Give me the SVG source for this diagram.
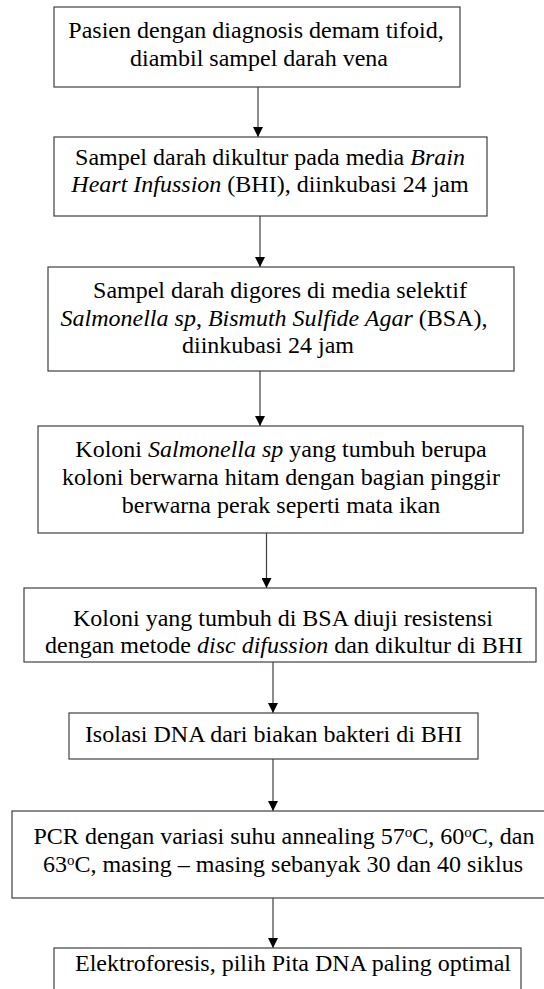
<svg xmlns="http://www.w3.org/2000/svg" width="544" height="989" viewBox="0 0 544 989">
<defs>
<style>
.box{fill:#fff;stroke:#404040;stroke-width:1.2}
.t{font-family:"Liberation Serif","Times New Roman",serif;font-size:24px;fill:#000;text-anchor:middle}
.i{font-style:italic}
.sup{font-size:15px}
.c{stroke:#404040;stroke-width:1.2;fill:none;marker-end:url(#ah)}
</style>
<marker id="ah" viewBox="0 0 10 10" refX="10" refY="5" markerWidth="10" markerHeight="10" markerUnits="userSpaceOnUse" orient="auto">
<path d="M0,0 L10,5 L0,10 z" fill="#000"/>
</marker>
</defs>
<rect width="544" height="989" fill="#fff"/>
<g id="connectors">
<line class="c" x1="258" y1="87" x2="258" y2="137"/>
<line class="c" x1="260" y1="216" x2="260" y2="267"/>
<line class="c" x1="260" y1="371" x2="260" y2="426"/>
<line class="c" x1="266.5" y1="533" x2="266.5" y2="588"/>
<line class="c" x1="273" y1="662" x2="273" y2="713"/>
<line class="c" x1="273" y1="759" x2="273" y2="811"/>
<line class="c" x1="273" y1="898" x2="273" y2="948"/>
</g>
<g id="n1">
<rect class="box" x="54" y="7" width="406" height="80"/>
<text class="t" x="256" y="38">Pasien dengan diagnosis demam tifoid,</text>
<text class="t" x="259" y="65.5">diambil sampel darah vena</text>
</g>
<g id="n2">
<rect class="box" x="54" y="137" width="433" height="79"/>
<text class="t" x="270" y="165">Sampel darah dikultur pada media <tspan class="i">Brain</tspan></text>
<text class="t" x="270" y="192"><tspan class="i">Heart Infussion</tspan> (BHI), diinkubasi 24 jam</text>
</g>
<g id="n3">
<rect class="box" x="48" y="267" width="466" height="104"/>
<text class="t" x="280" y="298">Sampel darah digores di media selektif</text>
<text class="t" x="274" y="325.5"><tspan class="i">Salmonella sp</tspan>, <tspan class="i">Bismuth Sulfide Agar</tspan> (BSA),</text>
<text class="t" x="268" y="353">diinkubasi 24 jam</text>
</g>
<g id="n4">
<rect class="box" x="38" y="426" width="485" height="107"/>
<text class="t" x="281" y="457">Koloni <tspan class="i">Salmonella sp</tspan> yang tumbuh berupa</text>
<text class="t" x="281" y="485">koloni berwarna hitam dengan bagian pinggir</text>
<text class="t" x="281" y="512.5">berwarna perak seperti mata ikan</text>
</g>
<g id="n5">
<rect class="box" x="24" y="588" width="512" height="74"/>
<text class="t" x="283" y="626">Koloni yang tumbuh di BSA diuji resistensi</text>
<text class="t" x="284" y="653">dengan metode <tspan class="i">disc difussion</tspan> dan dikultur di BHI</text>
</g>
<g id="n6">
<rect class="box" x="69" y="713" width="409" height="46"/>
<text class="t" x="273.5" y="742">Isolasi DNA dari biakan bakteri di BHI</text>
</g>
<g id="n7">
<rect class="box" x="12" y="811" width="545" height="87"/>
<text class="t" x="284" y="844">PCR dengan variasi suhu annealing 57<tspan class="sup" dy="-7">o</tspan><tspan dy="7">C, 60</tspan><tspan class="sup" dy="-7">o</tspan><tspan dy="7">C, dan</tspan></text>
<text class="t" x="283" y="872">63<tspan class="sup" dy="-7">o</tspan><tspan dy="7">C, masing – masing sebanyak 30 dan 40 siklus</tspan></text>
</g>
<g id="n8">
<rect class="box" x="54" y="948" width="467" height="55"/>
<text class="t" x="293" y="971">Elektroforesis, pilih Pita DNA paling optimal</text>
</g>
</svg>
